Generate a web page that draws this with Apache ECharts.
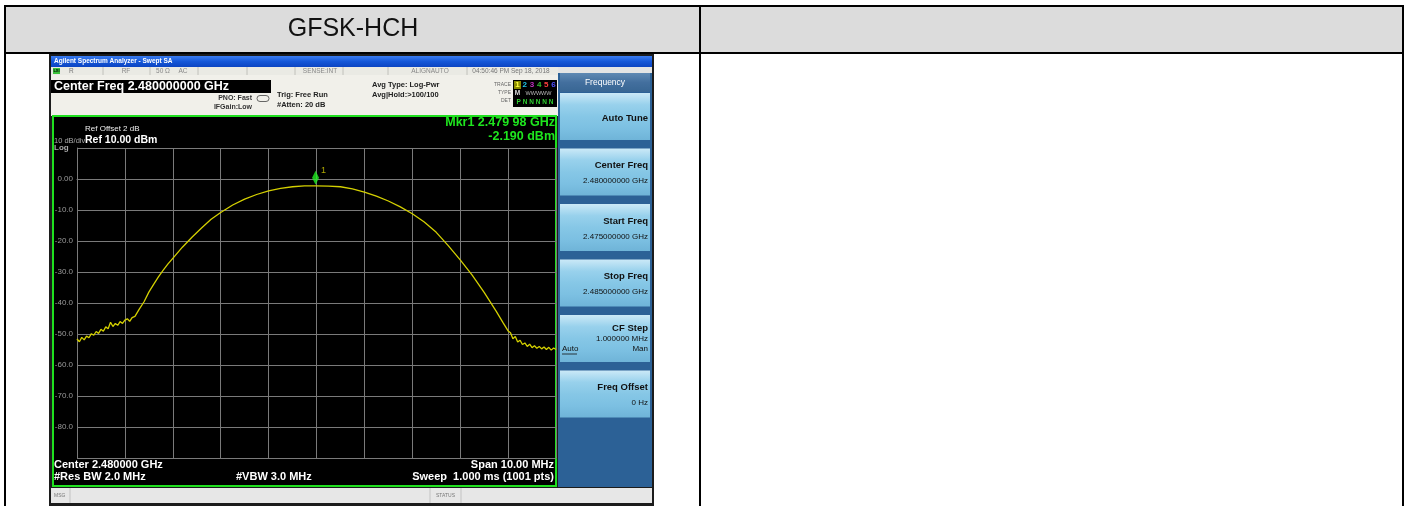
<!DOCTYPE html>
<html>
<head>
<meta charset="utf-8">
<script src="https://cdn.jsdelivr.net/npm/echarts@6/dist/echarts.min.js"></script>
<style>
html,body{margin:0;padding:0;background:#fff;}
#c{width:1411px;height:506px;}
</style>
</head>
<body>
<div id="c"></div>
<script>
// ---- data ----
const freqMHz = [
  2475.00,2475.05,2475.10,2475.15,2475.20,2475.25,2475.30,2475.35,2475.40,2475.45,
  2475.50,2475.55,2475.60,2475.65,2475.70,2475.75,2475.80,2475.85,2475.90,2475.95,
  2476.00,2476.05,2476.10,2476.15,2476.21,2476.30,2476.40,2476.50,2476.60,2476.70,
  2476.80,2476.90,2477.00,2477.20,2477.40,2477.60,2477.80,2478.00,2478.25,2478.50,
  2478.75,2479.00,2479.25,2479.50,2479.75,2479.98,2480.25,2480.50,2480.75,2481.00,
  2481.25,2481.50,2481.75,2482.00,2482.25,2482.50,2482.75,2483.00,2483.25,2483.50,
  2483.75,2483.90,2484.00,2484.05,2484.10,2484.15,2484.20,2484.25,2484.30,2484.35,
  2484.40,2484.45,2484.50,2484.55,2484.60,2484.65,2484.70,2484.75,2484.80,2484.85,
  2484.90,2484.95,2485.00
];
const levelDbm = [
  -51.6,-52.5,-51.1,-51.9,-50.7,-51.2,-49.9,-50.4,-49.2,-49.8,
  -48.5,-49.1,-47.7,-48.3,-46.2,-47.6,-46.6,-47.2,-46.0,-46.6,
  -45.5,-45.1,-45.9,-44.7,-44.3,-42.0,-39.6,-36.5,-34.0,-31.6,
  -29.4,-27.4,-25.6,-22.0,-18.8,-15.8,-13.0,-10.8,-8.4,-6.5,
  -5.0,-3.8,-3.0,-2.5,-2.25,-2.19,-2.3,-2.5,-3.2,-4.2,
  -5.5,-7.1,-9.0,-11.2,-13.9,-17.2,-21.5,-26.1,-31.0,-36.6,
  -42.6,-46.5,-49.0,-49.6,-51.5,-50.8,-52.6,-52.0,-53.4,-52.9,
  -54.0,-53.3,-54.4,-53.8,-54.6,-54.0,-54.8,-54.2,-55.0,-54.3,
  -55.2,-54.5,-55.0
];
const markerFreqMHz = 2479.98;
const markerLevelDbm = -2.19;
const yTickValues = [0,-10,-20,-30,-40,-50,-60,-70,-80];
const yTickLabels = ['0.00','-10.0','-20.0','-30.0','-40.0','-50.0','-60.0','-70.0','-80.0'];
const softkeyLabels = ['Auto Tune','Center Freq','Start Freq','Stop Freq','CF Step','Freq Offset'];
const softkeyValues = ['','2.480000000 GHz','2.475000000 GHz','2.485000000 GHz','1.000000 MHz','0 Hz'];

const traceData = freqMHz.map((f,i)=>[f, levelDbm[i]]);

// ---- helpers for graphic elements ----
const FF = '"Liberation Sans", Arial, sans-serif';
function T(text, x, y, o){
  o = o || {};
  const align = o.align || 'left';
  return {type:'text', z: o.z==null?20:o.z, silent:true,
    style:{text:text, x:x, y:y, fill:o.fill||'#000',
      font:(o.bold?'bold ':'')+(o.size||8)+'px '+(o.family||FF),
      align:align, textAlign:align, verticalAlign:'middle', textVerticalAlign:'middle'}};
}
function R(x,y,w,h,fill,o){
  o=o||{};
  return {type:'rect', z:o.z==null?-10:o.z, silent:true,
    shape:{x:x,y:y,width:w,height:h,r:o.r||0},
    style:{fill:fill, stroke:o.stroke||null, lineWidth:o.lw||0}};
}
function L(x1,y1,x2,y2,color,w,z){
  return {type:'line', z:z==null?30:z, silent:true,
    shape:{x1:x1,y1:y1,x2:x2,y2:y2}, style:{stroke:color,lineWidth:w||1}};
}
function grad(stops){
  return new echarts.graphic.LinearGradient(0,0,0,1,stops.map((c,i)=>({offset:i/(stops.length-1),color:c})));
}

const g = [];
// table
g.push(R(4,6,1400,47,'#dcdcdc'));
g.push(L(4,6,1404,6,'#000',2));
g.push(L(4,53,1404,53,'#000',2));
g.push(L(5,5,5,506,'#000',2));
g.push(L(700,5,700,506,'#000',2));
g.push(L(1403,5,1403,506,'#000',2));
g.push(T('GFSK-HCH',353,29.5,{size:25,align:'center',fill:'#111'}));

// screenshot frame
g.push(R(49,54,605,452,'#1c1c1c',{z:-12}));
g.push(R(51,56,601,11,grad(['#3a7cf0','#1557d8','#0b44c2'])));
g.push(T('Agilent Spectrum Analyzer - Swept SA',54,61.5,{size:6.5,bold:true,fill:'#fff'}));
// status row
g.push(R(51,67,507,8,'#eaeae4'));
g.push(R(53,68,7,6,'#3ac23a'));
g.push(T('LXI',56.5,71,{size:4,bold:true,fill:'#000',align:'center'}));
[103,150,198,247,295,343,388,467].forEach(x=>g.push(L(x,67,x,75,'#b8b8b0',0.8,-5)));
g.push(T('R',69,71,{size:6.5,fill:'#777'}));
g.push(T('RF',126,71,{size:6.5,fill:'#888',align:'center'}));
g.push(T('50 Ω',163,71,{size:6.5,fill:'#888',align:'center'}));
g.push(T('AC',183,71,{size:6.5,fill:'#888',align:'center'}));
g.push(T('SENSE:INT',320,71,{size:6.5,fill:'#888',align:'center'}));
g.push(T('ALIGNAUTO',430,71,{size:6.5,fill:'#888',align:'center'}));
g.push(T('04:50:46 PM Sep 18, 2018',511,71,{size:6.5,fill:'#777',align:'center'}));
// info area
g.push(R(51,75,507,41,'#f1f0ea'));
g.push(R(51,80,220,13,'#000',{z:-9}));
g.push(T('Center Freq 2.480000000 GHz',54,87,{size:12.5,bold:true,fill:'#fff'}));
g.push(T('PNO: Fast',252,98,{size:7,bold:true,fill:'#333',align:'right'}));
g.push(T('IFGain:Low',252,107,{size:7,bold:true,fill:'#333',align:'right'}));
g.push(R(257,95.5,12,6,'none',{z:5,r:3,stroke:'#444',lw:0.8}));
g.push(T('Trig: Free Run',277,95,{size:7.5,bold:true,fill:'#222'}));
g.push(T('#Atten: 20 dB',277,105,{size:7.5,bold:true,fill:'#222'}));
g.push(T('Avg Type: Log-Pwr',372,85,{size:7.5,bold:true,fill:'#222'}));
g.push(T('Avg|Hold:>100/100',372,95,{size:7.5,bold:true,fill:'#222'}));
g.push(T('TRACE',511,85,{size:5,fill:'#666',align:'right'}));
g.push(T('TYPE',511,93,{size:5,fill:'#666',align:'right'}));
g.push(T('DET',511,101,{size:5,fill:'#666',align:'right'}));
g.push(R(513,80,44,27,'#000',{z:-9}));
g.push(R(514,81,7,8,'#8a8a00',{z:-8}));
['#ffff40','#20c8e8','#c030c0','#30c030','#ff4040','#5050ff'].forEach((c,i)=>{
  g.push(T(String(i+1),517.5+i*7.2,85,{size:8,bold:true,fill:c,align:'center'}));
});
g.push(T('M',517.5,93,{size:6.5,bold:true,fill:'#ddd',align:'center'}));
g.push(T('WWWWW',538.5,93,{size:5.5,fill:'#bbb',align:'center'}));
g.push(T('P N N N N N',535,102,{size:6.5,bold:true,fill:'#30d030',align:'center'}));

// green frame around display
g.push(R(53,116,503,370,'#000',{z:-9,stroke:'#1fe01f',lw:2}));
g.push(T('Ref Offset 2 dB',85,129,{size:8,fill:'#eee'}));
g.push(T('Ref 10.00 dBm',85,140,{size:10.5,bold:true,fill:'#fff'}));
g.push(T('10 dB/div',54,140.5,{size:7.5,fill:'#aaa'}));
g.push(T('Log',54,148,{size:8,bold:true,fill:'#aaa'}));
g.push(T('Mkr1 2.479 98 GHz',555,122.5,{size:12.5,bold:true,fill:'#1ee61e',align:'right'}));
g.push(T('-2.190 dBm',555,136.5,{size:12.5,bold:true,fill:'#1ee61e',align:'right'}));
g.push(T('Center 2.480000 GHz',54,465,{size:11,bold:true,fill:'#fff'}));
g.push(T('#Res BW 2.0 MHz',54,477,{size:11,bold:true,fill:'#fff'}));
g.push(T('#VBW 3.0 MHz',236,477,{size:11,bold:true,fill:'#fff'}));
g.push(T('Span 10.00 MHz',554,465,{size:11,bold:true,fill:'#fff',align:'right'}));
g.push(T('Sweep  1.000 ms (1001 pts)',554,477,{size:11,bold:true,fill:'#fff',align:'right'}));

// right softkey panel
g.push(R(558,67,94,6,'#e4e4e4'));
g.push(R(558,73,94,414,'#2c6196'));
g.push(R(560,73,90,19,grad(['#5f89b3','#436f9e','#386693']),{z:-8}));
g.push(T('Frequency',605,82.5,{size:8.5,fill:'#fff',align:'center'}));
softkeyLabels.forEach((lab,i)=>{
  const top = 93 + 55.5*i;
  g.push(R(560,top,90,47,grad(['#cbe9f7','#98d1ec','#86c7e6','#7cc0e2','#6fb4d8']),{z:-8}));
  if(i===0){
    g.push(T(lab,648,top+25,{size:9.5,bold:true,fill:'#111',align:'right'}));
  } else if(i===4){
    g.push(T(lab,648,top+13,{size:9.5,bold:true,fill:'#111',align:'right'}));
    g.push(T(softkeyValues[i],648,top+24,{size:8,fill:'#111',align:'right'}));
    g.push(T('Auto',562,top+34,{size:8,fill:'#111'}));
    g.push(L(562,top+39,577,top+39,'#111',0.8));
    g.push(T('Man',648,top+34,{size:8,fill:'#111',align:'right'}));
  } else {
    g.push(T(lab,648,top+17,{size:9.5,bold:true,fill:'#111',align:'right'}));
    g.push(T(softkeyValues[i],648,top+32.5,{size:8,fill:'#111',align:'right'}));
  }
});

// message bar
g.push(R(51,488,601,15,'#e7e7e7'));
g.push(L(70,488,70,503,'#bbb',0.8));
g.push(L(430,488,430,503,'#bbb',0.8));
g.push(L(461,488,461,503,'#bbb',0.8));
g.push(T('MSG',54,495.5,{size:5,fill:'#777'}));
g.push(T('STATUS',445.5,495.5,{size:5,fill:'#777',align:'center'}));

const chart = echarts.init(document.getElementById('c'), null, {renderer:'canvas'});
chart.setOption({
  animation:false,
  backgroundColor:'#fff',
  grid:{left:77, top:148, width:479, height:310, containLabel:false},
  xAxis:{type:'value', min:2475, max:2485, interval:1,
    axisLine:{show:true,lineStyle:{color:'#7a7a7a',width:1}},
    axisTick:{show:false}, axisLabel:{show:false},
    splitLine:{show:true,lineStyle:{color:'#7a7a7a',width:1}}},
  yAxis:{type:'value', min:-90, max:10, interval:10,
    axisLine:{show:true,lineStyle:{color:'#7a7a7a',width:1}},
    axisTick:{show:false},
    axisLabel:{show:true, margin:4, color:'#9a9a9a', fontSize:8, fontFamily:'"Liberation Sans", Arial, sans-serif',
      formatter:function(v){const k=yTickValues.indexOf(v); return k<0?'':yTickLabels[k];}},
    splitLine:{show:true,lineStyle:{color:'#7a7a7a',width:1}}},
  series:[
    {type:'line', data:traceData, showSymbol:false, symbol:'none', silent:true,
     lineStyle:{color:'#d4d000', width:1.3}, z:3},
    {type:'scatter', data:[[markerFreqMHz, markerLevelDbm]], symbol:'diamond', symbolSize:[7,14],
     symbolOffset:[0,-8], itemStyle:{color:'#22ee22'}, silent:true, z:4,
     label:{show:true, formatter:'1', position:'right', distance:2, offset:[0,-7], color:'#d8d000', fontSize:9,
       fontFamily:'"Liberation Sans", Arial, sans-serif'}}
  ],
  graphic:{elements:g}
});
</script>
</body>
</html>
